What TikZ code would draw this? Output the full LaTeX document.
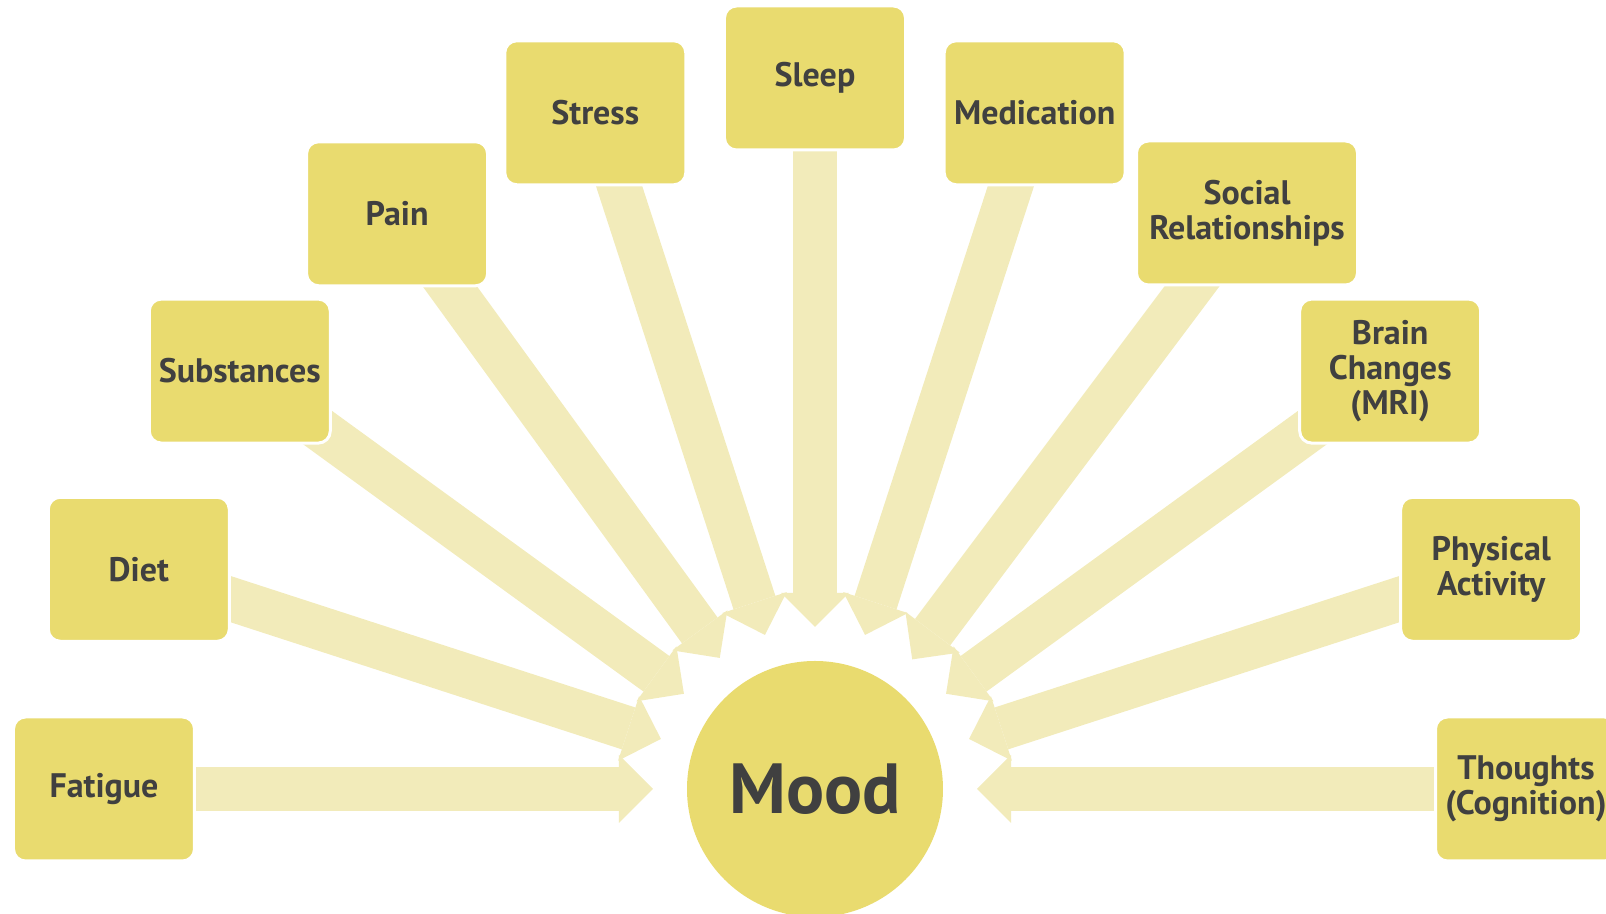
\documentclass[tikz,border=0pt]{standalone}
\usepackage{fontspec}
\setmainfont{PT Sans}
\usepackage{tikz}
\usetikzlibrary{arrows.meta,backgrounds}

\definecolor{boxyellow}{HTML}{E9DB6F}
\definecolor{arrowyellow}{HTML}{F2EBBA}
\definecolor{textgray}{HTML}{404040}

\tikzset{
  factorbox/.style={draw=white, line width=1.5pt, fill=boxyellow, rounded corners=6pt,
    minimum width=90.5pt, minimum height=72pt, inner sep=2pt, align=center,
    text=textgray, font=\fontsize{17}{17.5}\selectfont\bfseries},
  moodnode/.style={circle, fill=boxyellow, minimum size=128pt, inner sep=0pt, outer sep=0pt,
    text=textgray, font=\fontsize{35.5}{38}\selectfont\bfseries},
  inarrow/.style={draw=arrowyellow, line width=22pt, shorten >=17pt,
    -{Triangle[length=17pt,width=34pt,line width=0pt]}}
}

\begin{document}
\begin{tikzpicture}
  \useasboundingbox (-407.5pt,-62.5pt) rectangle (395.5pt,394.5pt);
  \node[moodnode] (mood) at (0,0) {Mood};
  \node[factorbox] (fatigue) at (180:355.5pt) {Fatigue};
  \node[factorbox] (diet) at (162:355.5pt) {Diet};
  \node[factorbox] (substances) at (144:355.5pt) {Substances};
  \node[factorbox] (pain) at (126:355.5pt) {Pain};
  \node[factorbox] (stress) at (108:355.5pt) {Stress};
  \node[factorbox] (sleep) at (90:355.5pt) {Sleep};
  \node[factorbox] (medication) at (72:355.5pt) {Medication};
  \node[factorbox, minimum width=110.5pt] (social) at (216pt,288pt) {Social\\Relationships};
  \node[factorbox] (brain) at (36:355.5pt) {Brain\\Changes\\(MRI)};
  \node[factorbox] (physical) at (18:355.5pt) {Physical\\Activity};
  \node[factorbox] (thoughts) at (0:355.5pt) {Thoughts\\(Cognition)};
  \begin{scope}[on background layer]
    \foreach \src in {fatigue,diet,substances,pain,stress,sleep,medication,social,brain,physical,thoughts}
      \draw[inarrow] (\src.center) -- (mood);
  \end{scope}
\end{tikzpicture}
\end{document}
